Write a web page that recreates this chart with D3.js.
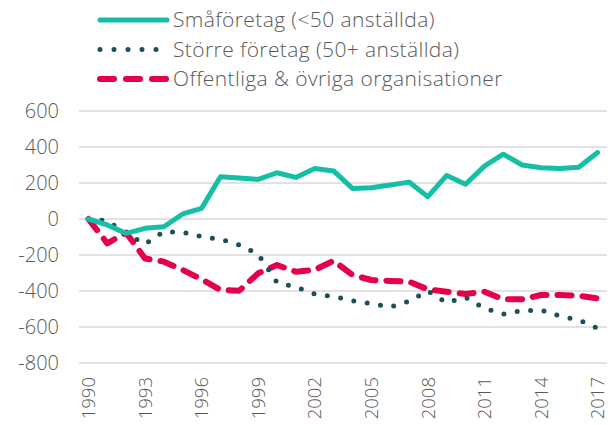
<!DOCTYPE html>
<html>
<head>
<meta charset="utf-8">
<script src="https://cdn.jsdelivr.net/npm/d3@7"></script>
<style>
  body { margin: 0; background: #fff; }
  svg text { font-family: "Open Sans", Lato, sans-serif; font-weight: 300; fill: #595959; }
</style>
</head>
<body>
<svg id="chart" width="616" height="425"></svg>
<script>
// data
const years = d3.range(1990, 2018);
const smaForetag = [0, -33, -80, -52, -43, 28, 59, 235, 228, 220, 257, 231, 281, 267,
  170, 174, 189, 205, 124, 242, 193, 294, 360, 300, 285, 281, 287, 369];
const storreForetag = [0, -10, -80, -139, -70, -74, -98, -113, -144, -195, -352, -378, -417, -431,
  -454, -470, -489, -457, -400, -465, -435, -496, -528, -509, -506, -539, -561, -607];
const offentliga = [0, -135, -76, -219, -237, -283, -335, -394, -398, -302, -256, -293, -283, -232,
  -311, -339, -344, -348, -391, -404, -417, -404, -446, -446, -422, -422, -426, -441];
const yTicks = [-800, -600, -400, -200, 0, 200, 400, 600];
const xTickYears = [1990, 1993, 1996, 1999, 2002, 2005, 2008, 2011, 2014, 2017];

const series = [
  { name: "Småföretag (<50 anställda)", values: smaForetag, color: "#14bfa6", width: 5, dash: null },
  { name: "Större företag (50+ anställda)", values: storreForetag, color: "#1d4f5b", width: 5, dash: "0 13.5" },
  { name: "Offentliga & övriga organisationer", values: offentliga, color: "#e4004b", width: 6, dash: "14 11" }
];

const svg = d3.select("#chart");
const plotLeft = 79, plotRight = 607, plotTop = 111, plotBottom = 363;

const x = d3.scaleBand().domain(years).range([plotLeft, plotRight]);
const y = d3.scaleLinear().domain([-800, 600]).range([plotBottom, plotTop]);
const cx = yr => x(yr) + x.bandwidth() / 2;

// gridlines
svg.append("g")
  .selectAll("line")
  .data(yTicks)
  .enter().append("line")
  .attr("x1", plotLeft).attr("x2", plotRight)
  .attr("y1", d => y(d)).attr("y2", d => y(d))
  .attr("stroke", "#d9d9d9").attr("stroke-width", 1.5);

// y axis labels
svg.append("g")
  .selectAll("text")
  .data(yTicks)
  .enter().append("text")
  .attr("x", 59).attr("y", d => y(d))
  .attr("dy", "0.35em")
  .attr("text-anchor", "end")
  .style("font-size", "20px")
  .text(d => d);

// x axis labels, rotated
svg.append("g")
  .selectAll("text")
  .data(xTickYears)
  .enter().append("text")
  .attr("transform", d => `translate(${cx(d)},377) rotate(-90)`)
  .attr("dy", "0.36em")
  .attr("text-anchor", "end")
  .style("font-size", "18.5px")
  .text(d => d);

// lines
const line = d3.line()
  .x((d, i) => cx(years[i]))
  .y(d => y(d));

svg.append("g")
  .selectAll("path")
  .data(series.slice().reverse())
  .enter().append("path")
  .attr("d", s => line(s.values))
  .attr("fill", "none")
  .attr("stroke", s => s.color)
  .attr("stroke-width", s => s.width)
  .attr("stroke-dasharray", s => s.dash)
  .attr("stroke-linecap", "round")
  .attr("stroke-linejoin", "round");

// legend
const legend = svg.append("g")
  .selectAll("g")
  .data(series)
  .enter().append("g")
  .attr("transform", (d, i) => `translate(0,${20 + i * 29.5})`);

legend.append("line")
  .attr("x1", 100).attr("x2", 167)
  .attr("y1", 0).attr("y2", 0)
  .attr("stroke", s => s.color)
  .attr("stroke-width", s => s.width)
  .attr("stroke-dasharray", (s, i) => i === 1 ? "0 14" : (i === 2 ? "14 12" : null))
  .attr("stroke-linecap", "round");

legend.append("text")
  .attr("x", 173).attr("y", 0)
  .attr("dy", "0.35em")
  .style("font-size", "21px")
  .style("letter-spacing", "0.4px")
  .text(s => s.name);
</script>
</body>
</html>
